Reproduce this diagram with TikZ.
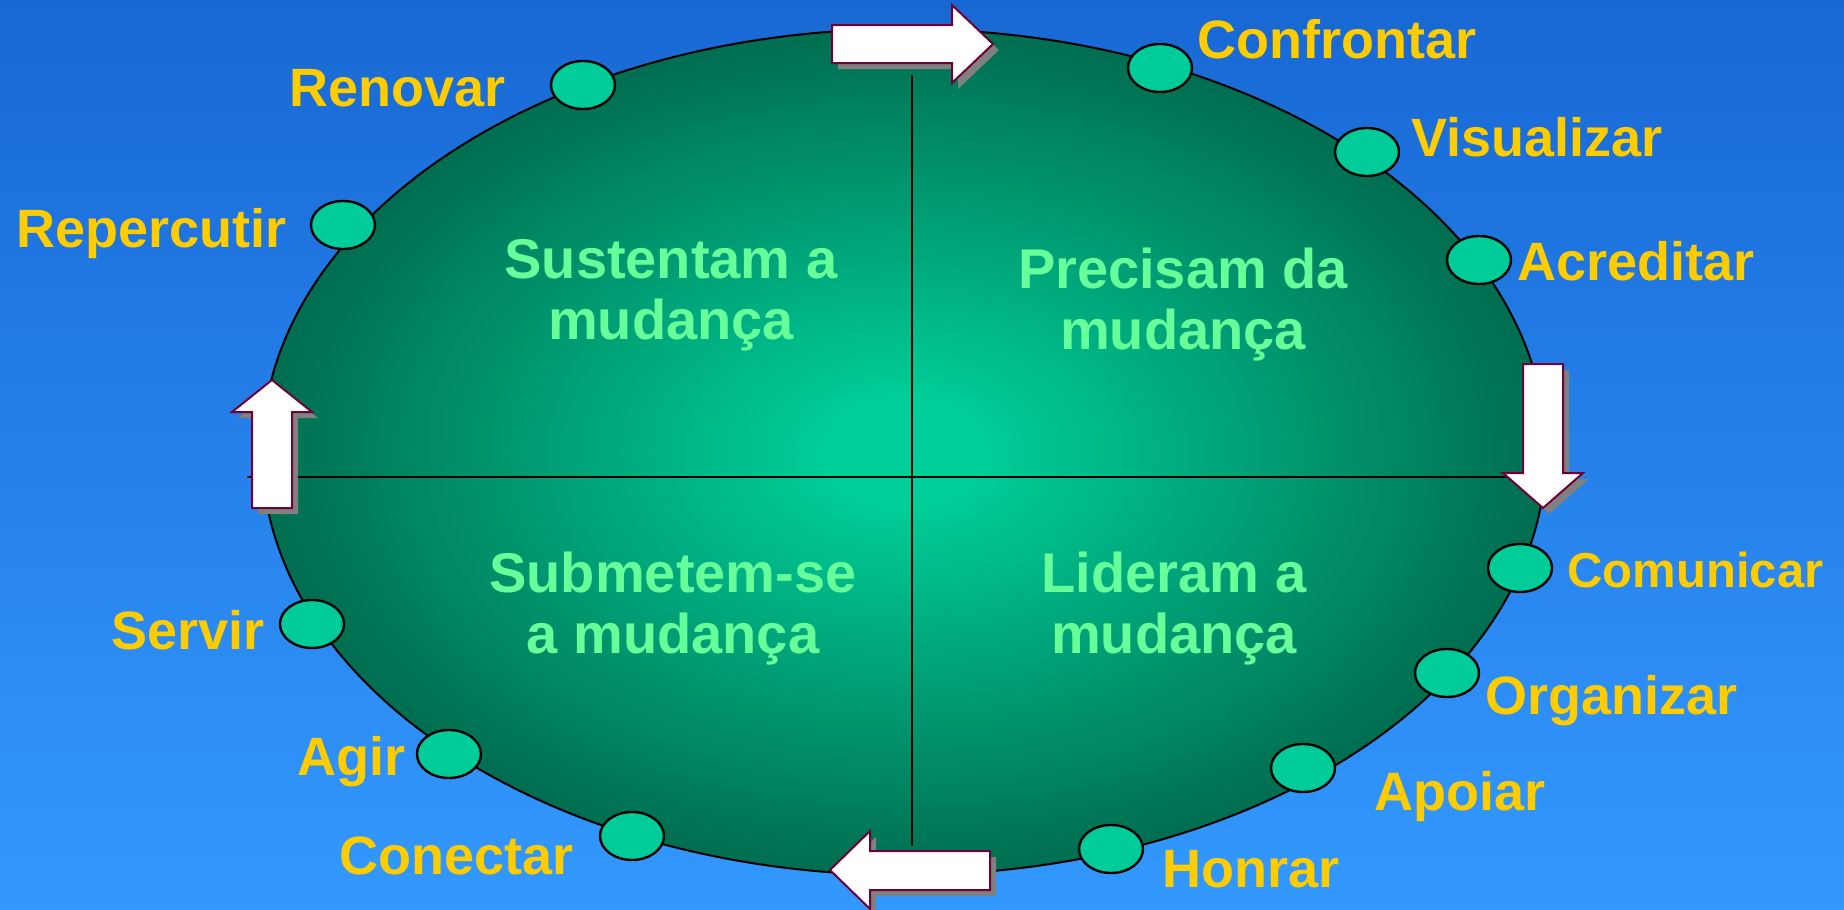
\documentclass[tikz,border=0pt]{standalone}
\usepackage{fontspec}
\setmainfont{Liberation Sans}
\usepackage{tikz}
\usetikzlibrary{shapes,shadows}
\definecolor{skytop}{RGB}{24,104,212}
\definecolor{skybottom}{RGB}{51,153,255}
\definecolor{glowin}{RGB}{0,206,152}
\definecolor{glowout}{RGB}{0,96,70}
\definecolor{spotgreen}{RGB}{0,204,153}
\definecolor{gold}{RGB}{255,204,0}
\definecolor{mint}{RGB}{102,255,153}
\definecolor{wine}{RGB}{112,0,56}
\definecolor{shadowgray}{RGB}{128,128,128}
\pgfdeclareradialshading{ovalglow}{\pgfpoint{0bp}{0bp}}{color(0bp)=(glowin); color(3bp)=(glowin); color(28bp)=(glowout); color(50bp)=(glowout)}
\tikzset{spot/.style={ellipse,draw,line width=1.2pt,fill=spotgreen,
    minimum width=32pt,minimum height=24pt,inner sep=0pt},
  stage/.style={text=gold,font=\bfseries\fontsize{27}{29}\selectfont,
    inner sep=0pt,anchor=base west},
  stageleft/.style={stage,anchor=base east},
  phase/.style={text=mint,font=\bfseries\fontsize{28}{30.5}\selectfont,
    align=center,inner sep=0pt},
  turnarrow/.style={draw=wine,line width=1pt,fill=white,line join=miter,
    drop shadow={shadow xshift=3pt,shadow yshift=-3pt,fill=shadowgray,opacity=1}}}

\begin{document}
\begin{tikzpicture}[x=0.5pt,y=-0.5pt,line cap=round]

  \useasboundingbox (0,0) rectangle (1844,910);
  \shade [top color=skytop,bottom color=skybottom] (0,0) rectangle (1844,910);

  \shadedraw [line width=1pt,shading=ovalglow] (904,452) ellipse [x radius=321pt,y radius=211.5pt];

  \draw [line width=1pt] (248,477) -- (1545,477);
  \draw [line width=1pt] (912,76) -- (912,845);

  \node [phase] (sustentam) at (671,295) {Sustentam a\\mudança};
  \node [phase] (precisam) at (1183,305) {Precisam da\\mudança};
  \node [phase] (submetem) at (673,609) {Submetem-se\\a mudança};
  \node [phase] (lideram) at (1174,609) {Lideram a\\mudança};



  \node [spot] (renovar) at (583,85) {};
  \node [spot] (repercutir) at (343,225) {};
  \node [spot] (confrontar) at (1160,68) {};
  \node [spot] (visualizar) at (1367,152) {};
  \node [spot] (acreditar) at (1479,260) {};
  \node [spot] (comunicar) at (1520,568) {};
  \node [spot] (organizar) at (1447,673) {};
  \node [spot] (apoiar) at (1303,768) {};
  \node [spot] (honrar) at (1111,849) {};
  \node [spot] (conectar) at (632,836) {};
  \node [spot] (agir) at (449,754) {};
  \node [spot] (servir) at (312,624) {};

  \node [stageleft] (lrenovar) at (506,106) {Renovar};
  \node [stageleft] (lrepercutir) at (287,247) {Repercutir};
  \node [stage] (lconfrontar) at (1197,58) {Confrontar};
  \node [stage] (lvisualizar) at (1411,156) {Visualizar};
  \node [stage] (lacreditar) at (1517,280) {Acreditar};
  \node [stage,font=\bfseries\fontsize{24.5}{27}\selectfont] (lcomunicar) at (1567,587) {Comunicar};
  \node [stage] (lorganizar) at (1485,714) {Organizar};
  \node [stage] (lapoiar) at (1374,810) {Apoiar};
  \node [stage] (lhonrar) at (1162,887) {Honrar};
  \node [stageleft] (lconectar) at (574,874) {Conectar};
  \node [stageleft] (lagir) at (406,775) {Agir};
  \node [stageleft] (lservir) at (265,649) {Servir};



  \draw [turnarrow] (832,25) -- (952,25) -- (952,5) -- (993,44) -- (952,83) -- (952,63) -- (832,63) -- cycle;
  \draw [turnarrow] (1523,364) -- (1563,364) -- (1563,473) -- (1583,473) -- (1543,508) -- (1503,473) -- (1523,473) -- cycle;
  \draw [turnarrow] (990,851) -- (870,851) -- (870,831) -- (830,870) -- (870,909) -- (870,890) -- (990,890) -- cycle;
  \draw [turnarrow] (252,508) -- (252,412) -- (232,412) -- (272,380) -- (312,412) -- (292,412) -- (292,508) -- cycle;

\end{tikzpicture}
\end{document}
